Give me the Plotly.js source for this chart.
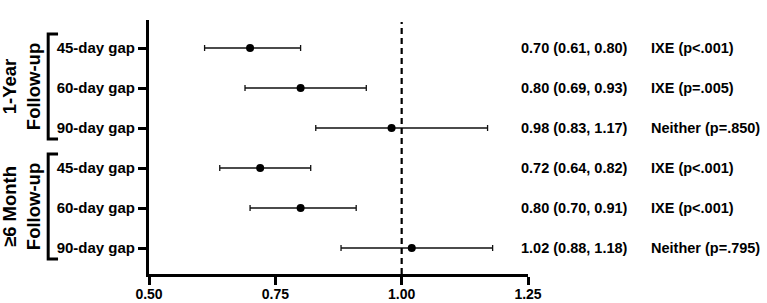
<!DOCTYPE html>
<html>
<head>
<meta charset="utf-8">
<script src="https://cdn.plot.ly/plotly-3.0.1.min.js"></script>
<style>html,body{margin:0;padding:0;background:#fff;}#chart{width:767px;height:303px;}</style>
</head>
<body>
<div id="chart"></div>
<script>
// ---- data ----
const groupNames = ["1-Year<br>Follow-up", "\u22656 Month<br>Follow-up"];
const rowLabels = ["45-day gap", "60-day gap", "90-day gap", "45-day gap", "60-day gap", "90-day gap"];
const rowGroup = [0, 0, 0, 1, 1, 1];
const hr = [0.70, 0.80, 0.98, 0.72, 0.80, 1.02];
const ciLow = [0.61, 0.69, 0.83, 0.64, 0.70, 0.88];
const ciHigh = [0.80, 0.93, 1.17, 0.82, 0.91, 1.18];
const favors = ["IXE (p<.001)", "IXE (p=.005)", "Neither (p=.850)", "IXE (p<.001)", "IXE (p<.001)", "Neither (p=.795)"];
const colHeaders = ["HR (95% CI)", "Favors"];
const xTicks = [0.50, 0.75, 1.00, 1.25];

// ---- build ----
const n = hr.length;
const yPos = hr.map((_, i) => n - i); // top row = n
const FONT = "Liberation Sans, Arial, sans-serif";
const fTick = {family: FONT, size: 15, color: "#000", weight: "bold"};
const fAnn = {family: FONT, size: 14.5, color: "#000", weight: "bold"};

const trace = {
  type: "scatter",
  mode: "markers",
  x: hr,
  y: yPos,
  marker: {color: "#000", size: 8},
  error_x: {
    type: "data",
    symmetric: false,
    array: hr.map((v, i) => ciHigh[i] - v),
    arrayminus: hr.map((v, i) => v - ciLow[i]),
    color: "#111",
    thickness: 1.3,
    width: 3
  },
  hoverinfo: "skip",
  showlegend: false,
  cliponaxis: false
};

const annotations = [];
// column headers
annotations.push({xref: "paper", yref: "y", x: 0.985, y: n + 0.95, text: "<b>" + colHeaders[0] + "</b>", showarrow: false, xanchor: "left", yanchor: "middle", font: fAnn});
annotations.push({xref: "paper", yref: "y", x: 1.333, y: n + 0.95, text: "<b>" + colHeaders[1] + "</b>", showarrow: false, xanchor: "left", yanchor: "middle", font: fAnn});
for (let i = 0; i < n; i++) {
  const s = hr[i].toFixed(2) + " (" + ciLow[i].toFixed(2) + ", " + ciHigh[i].toFixed(2) + ")";
  annotations.push({xref: "paper", yref: "y", x: 0.975, y: yPos[i], text: "<b>" + s + "</b>", showarrow: false, xanchor: "left", yanchor: "middle", font: fAnn});
  annotations.push({xref: "paper", yref: "y", x: 1.32, y: yPos[i], text: "<b>" + favors[i].replace("<", "&lt;") + "</b>", showarrow: false, xanchor: "left", yanchor: "middle", font: fAnn});
}

const shapes = [];
// group brackets and labels
groupNames.forEach((g, gi) => {
  const rows = yPos.filter((_, i) => rowGroup[i] === gi);
  const top = Math.max(...rows) + 0.35;
  const bot = Math.min(...rows) - 0.275;
  shapes.push({
    type: "path", xref: "paper", yref: "y",
    path: `M -0.24 ${top} L -0.266 ${top} L -0.266 ${bot} L -0.24 ${bot}`,
    line: {color: "#000", width: 3}
  });
  annotations.push({
    xref: "paper", yref: "y", x: -0.336, y: (top + bot) / 2,
    text: "<b>" + g + "</b>", showarrow: false, textangle: -90,
    xanchor: "center", yanchor: "middle",
    font: {family: FONT, size: 18.5, color: "#000", weight: "bold"}
  });
});
// reference line at HR = 1
shapes.push({
  type: "line", xref: "x", yref: "y", x0: 1, x1: 1, y0: 0.35, y1: n + 0.65,
  line: {color: "#000", width: 2.2, dash: "6px,4px"}
});

const layout = {
  width: 767, height: 303,
  margin: {l: 149, r: 239, t: 20, b: 29},
  paper_bgcolor: "#fff", plot_bgcolor: "#fff",
  xaxis: {
    range: [xTicks[0], xTicks[xTicks.length - 1]],
    tickvals: xTicks, ticktext: xTicks.map(v => "<b>" + v.toFixed(2) + "</b>"),
    showgrid: false, zeroline: false,
    showline: true, linecolor: "#000", linewidth: 3,
    ticks: "outside", ticklen: 8, tickwidth: 3, tickcolor: "#000",
    tickfont: {family: FONT, size: 14, color: "#000", weight: "bold"},
    ticklabelstandoff: -3,
    fixedrange: true
  },
  yaxis: {
    range: [0.35, n + 0.7],
    tickvals: yPos, ticktext: rowLabels.map(s => "<b>" + s + "</b>"),
    showgrid: false, zeroline: false,
    showline: true, linecolor: "#000", linewidth: 3,
    ticks: "outside", ticklen: 8, tickwidth: 3, tickcolor: "#000",
    tickfont: fTick, fixedrange: true
  },
  annotations: annotations,
  shapes: shapes,
  showlegend: false
};

Plotly.newPlot("chart", [trace], layout, {displayModeBar: false, staticPlot: true});
</script>
</body>
</html>
